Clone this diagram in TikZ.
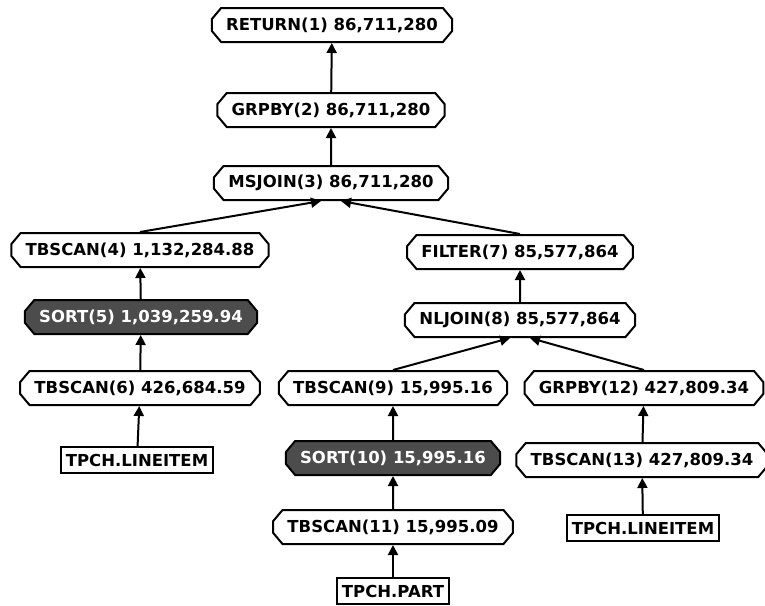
\documentclass[tikz,border=0pt]{standalone}
\usepackage{fontspec}
\setmainfont{DejaVu Sans}
\usepackage{tikz}
\usetikzlibrary{shapes.misc, positioning, arrows.meta}

\begin{document}
\begin{tikzpicture}[x=1pt, y=-1pt,
  opnode/.style={chamfered rectangle, chamfered rectangle xsep=10pt,
    chamfered rectangle angle=40, draw=black, line width=2pt, fill=white,
    inner xsep=8pt, inner ysep=0pt, minimum height=34pt,
    font=\bfseries\fontsize{16.5}{18}\selectfont},
  sortnode/.style={opnode, fill=black!70, text=white},
  tblnode/.style={rectangle, draw=black, line width=2pt, inner xsep=5pt,
    inner ysep=0pt, minimum height=26pt,
    font=\bfseries\fontsize{16.5}{18}\selectfont},
  link/.style={-{Triangle[width=10pt, length=10pt]}, line width=2pt}
]
  \useasboundingbox (0,0) rectangle (765,605);

  % top of the plan
  \node[opnode] (ret) at (332,25) {RETURN(1) 86,711,280};
  \node[opnode] (grp2) at (331,110) {GRPBY(2) 86,711,280};
  \node[opnode] (msj) at (331,183) {MSJOIN(3) 86,711,280};

  % left branch
  \node[opnode] (tbs4) at (140,250) {TBSCAN(4) 1,132,284.88};
  \node[sortnode] (sort5) at (141,317) {SORT(5) 1,039,259.94};
  \node[opnode] (tbs6) at (140,388) {TBSCAN(6) 426,684.59};
  \node[tblnode] (li1) at (137,460) {TPCH.LINEITEM};

  % right branch
  \node[opnode] (filt) at (520,252) {FILTER(7) 85,577,864};
  \node[opnode] (nlj) at (520,320) {NLJOIN(8) 85,577,864};
  \node[opnode] (tbs9) at (393,388) {TBSCAN(9) 15,995.16};
  \node[sortnode] (sort10) at (393,458) {SORT(10) 15,995.16};
  \node[opnode] (tbs11) at (393,527) {TBSCAN(11) 15,995.09};
  \node[tblnode] (part) at (393,591) {TPCH.PART};
  \node[opnode] (grp12) at (644,388) {GRPBY(12) 427,809.34};
  \node[opnode] (tbs13) at (642,460) {TBSCAN(13) 427,809.34};
  \node[tblnode] (li2) at (643,528) {TPCH.LINEITEM};

  \draw[link] (grp2) -- (ret);
  \draw[link] (msj) -- (grp2);
  \draw[link] (tbs4.north) -- ([xshift=-10pt]msj.south);
  \draw[link] (filt.north) -- ([xshift=10pt]msj.south);
  \draw[link] (sort5) -- (tbs4);
  \draw[link] (tbs6) -- (sort5);
  \draw[link] (li1) -- (tbs6);
  \draw[link] (nlj) -- (filt);
  \draw[link] (tbs9.north) -- ([xshift=-10pt]nlj.south);
  \draw[link] (grp12.north) -- ([xshift=10pt]nlj.south);
  \draw[link] (sort10) -- (tbs9);
  \draw[link] (tbs11) -- (sort10);
  \draw[link] (part) -- (tbs11);
  \draw[link] (tbs13) -- (grp12);
  \draw[link] (li2) -- (tbs13);
\end{tikzpicture}
\end{document}
